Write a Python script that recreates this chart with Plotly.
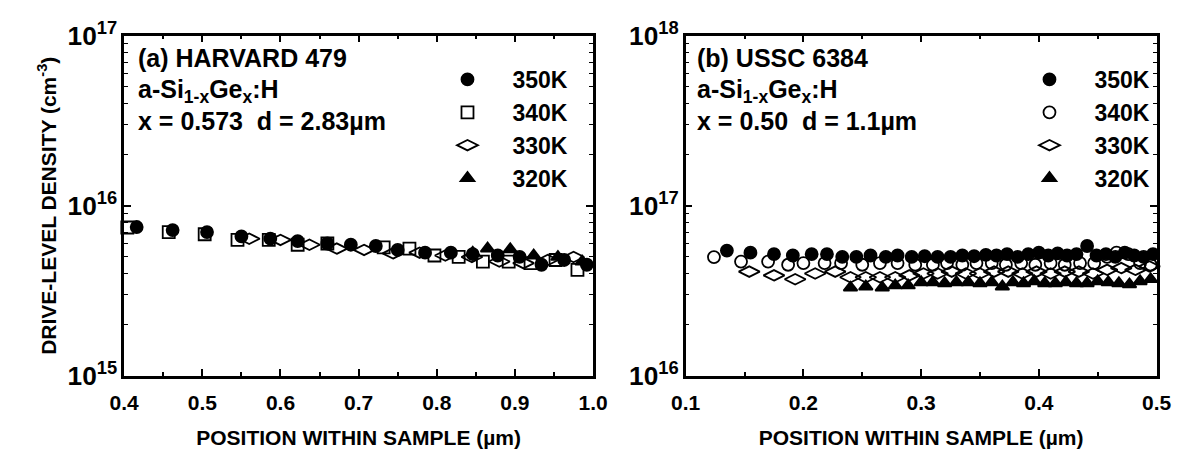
import plotly.graph_objects as go

# ---------------- Panel (a): HARVARD 479 ----------------
a_350_x = [0.416, 0.462, 0.506, 0.550, 0.587, 0.622, 0.660, 0.690, 0.722, 0.750, 0.785, 0.818, 0.846, 0.878, 0.906, 0.934, 0.963, 0.992]
a_350_y = [7.5e15, 7.2e15, 7.0e15, 6.6e15, 6.4e15, 6.2e15, 6.0e15, 5.9e15, 5.8e15, 5.5e15, 5.3e15, 5.3e15, 5.2e15, 5.1e15, 5.0e15, 4.5e15, 4.8e15, 4.5e15]

a_340_x = [0.404, 0.457, 0.503, 0.545, 0.585, 0.622, 0.660, 0.732, 0.765, 0.797, 0.828, 0.859, 0.892, 0.920, 0.952, 0.980]
a_340_y = [7.45e15, 7.0e15, 6.8e15, 6.3e15, 6.3e15, 5.9e15, 6.0e15, 5.7e15, 5.6e15, 5.1e15, 5.0e15, 4.7e15, 4.7e15, 4.6e15, 4.8e15, 4.2e15]

a_330_x = [0.560, 0.600, 0.637, 0.672, 0.707, 0.744, 0.778, 0.811, 0.845, 0.880, 0.911, 0.942, 0.975]
a_330_y = [6.4e15, 6.3e15, 5.9e15, 5.6e15, 5.5e15, 5.25e15, 5.3e15, 5.1e15, 5.0e15, 4.7e15, 4.6e15, 4.8e15, 5.0e15]

a_320_x = [0.846, 0.865, 0.894, 0.924, 0.955, 0.986]
a_320_y = [5.3e15, 5.6e15, 5.55e15, 5.1e15, 5.0e15, 4.7e15]

# ---------------- Panel (b): USSC 6384 ----------------
b_350_x = [0.135, 0.155, 0.175, 0.191, 0.207, 0.220, 0.233, 0.245, 0.257, 0.270, 0.280, 0.292, 0.303, 0.314,
           0.325, 0.335, 0.345, 0.355, 0.364, 0.373, 0.382, 0.391, 0.400, 0.408, 0.416, 0.424, 0.432, 0.441,
           0.449, 0.457, 0.465, 0.473, 0.481, 0.489, 0.497]
b_350_y = [5.45e16, 5.3e16, 5.2e16, 5.1e16, 5.2e16, 5.2e16, 5.0e16, 5.0e16, 5.1e16, 5.0e16, 5.1e16, 5.0e16, 5.05e16, 5.0e16,
           5.0e16, 5.1e16, 5.05e16, 5.15e16, 5.1e16, 5.2e16, 5.0e16, 5.2e16, 5.3e16, 5.1e16, 5.25e16, 5.1e16, 5.2e16, 5.8e16,
           5.1e16, 5.2e16, 5.0e16, 5.3e16, 5.1e16, 5.0e16, 5.2e16]

b_340_x = [0.124, 0.147, 0.170, 0.187, 0.200, 0.218, 0.232, 0.250, 0.265, 0.280, 0.295, 0.310, 0.322, 0.335,
           0.347, 0.360, 0.372, 0.385, 0.397, 0.410, 0.422, 0.435, 0.447, 0.458, 0.466, 0.476, 0.486, 0.495]
b_340_y = [4.99e16, 4.7e16, 4.7e16, 4.5e16, 4.6e16, 4.6e16, 4.6e16, 4.5e16, 4.6e16, 4.6e16, 4.5e16, 4.5e16, 4.6e16, 4.5e16,
           4.6e16, 4.6e16, 4.5e16, 4.6e16, 4.5e16, 4.6e16, 4.5e16, 4.6e16, 4.6e16, 5.0e16, 5.3e16, 5.2e16, 4.6e16, 4.5e16]

b_330_x = [0.154, 0.175, 0.193, 0.210, 0.227, 0.240, 0.253, 0.265, 0.278, 0.290, 0.302, 0.314, 0.326, 0.338,
           0.350, 0.362, 0.374, 0.386, 0.398, 0.410, 0.422, 0.434, 0.446, 0.458, 0.470, 0.482, 0.494]
b_330_y = [4.1e16, 3.9e16, 3.7e16, 4.0e16, 4.1e16, 3.8e16, 3.8e16, 3.8e16, 3.8e16, 3.9e16, 4.0e16, 4.0e16, 4.1e16, 4.0e16,
           4.0e16, 4.1e16, 4.1e16, 4.0e16, 4.1e16, 4.0e16, 4.1e16, 4.1e16, 4.0e16, 4.2e16, 4.3e16, 4.2e16, 4.4e16]

b_320_x = [0.240, 0.253, 0.267, 0.278, 0.289, 0.300, 0.310, 0.320, 0.330, 0.340, 0.350, 0.360, 0.369, 0.378,
           0.387, 0.396, 0.405, 0.414, 0.423, 0.432, 0.441, 0.450, 0.459, 0.468, 0.477, 0.486, 0.495]
b_320_y = [3.3e16, 3.35e16, 3.3e16, 3.4e16, 3.4e16, 3.55e16, 3.55e16, 3.5e16, 3.55e16, 3.55e16, 3.5e16, 3.55e16, 3.35e16, 3.55e16,
           3.5e16, 3.6e16, 3.5e16, 3.5e16, 3.55e16, 3.5e16, 3.5e16, 3.6e16, 3.55e16, 3.5e16, 3.45e16, 3.6e16, 3.7e16]

temps = ["350K", "340K", "330K", "320K"]

FONT = "Liberation Sans"
BLACK = "black"

fig = go.Figure()

def add(x, y, name, symbol, size, xa, ya, leg):
    fig.add_trace(go.Scatter(
        x=x, y=y, mode="markers", name="<b>" + name + "</b>", xaxis=xa, yaxis=ya, legend=leg,
        marker=dict(symbol=symbol, size=size, color=BLACK,
                    line=dict(color=BLACK, width=1.8)),
        cliponaxis=False,
    ))

add(a_350_x, a_350_y, temps[0], "circle", 12, "x", "y", "legend")
add(a_340_x, a_340_y, temps[1], "square-open", 12, "x", "y", "legend")
add(a_330_x, a_330_y, temps[2], "diamond-wide-open", 15, "x", "y", "legend")
add(a_320_x, a_320_y, temps[3], "triangle-up", 12, "x", "y", "legend")

add(b_350_x, b_350_y, temps[0], "circle", 12, "x2", "y2", "legend2")
add(b_340_x, b_340_y, temps[1], "circle-open", 12, "x2", "y2", "legend2")
add(b_330_x, b_330_y, temps[2], "diamond-wide-open", 15, "x2", "y2", "legend2")
add(b_320_x, b_320_y, temps[3], "triangle-up", 12, "x2", "y2", "legend2")

W, H = 1193, 465
def px(v):
    return v / W
def py(v):
    return 1 - v / H

axis_common = dict(
    showline=True, linecolor=BLACK, linewidth=2.5, mirror="allticks",
    ticks="inside", ticklen=7, tickwidth=1.5, tickcolor=BLACK,
    showgrid=False, zeroline=False, ticklabeloverflow="allow",
    tickfont=dict(family=FONT, size=21, color=BLACK),
)

xcommon = dict(axis_common, dtick=0.1, tickformat=".1f", ticklabelstandoff=6,
               minor=dict(ticks="inside", ticklen=4, tickwidth=1.5, tickcolor=BLACK, dtick=0.05),
               title=dict(text="<b>POSITION WITHIN SAMPLE (µm)</b>",
                          font=dict(family=FONT, size=21, color=BLACK), standoff=18))
ycommon = dict(axis_common, type="log", dtick=1, exponentformat="power",
               minor=dict(ticks="inside", ticklen=4, tickwidth=1.2, tickcolor=BLACK, dtick="D1"))

fig.update_layout(
    width=W, height=H, margin=dict(l=0, r=0, t=0, b=0),
    paper_bgcolor="white", plot_bgcolor="white",
    font=dict(family=FONT, size=21, color=BLACK),
    xaxis=dict(xcommon, domain=[px(112), px(593)], range=[0.4, 1.0], anchor="y"),
    yaxis=dict(ycommon, domain=[py(385), py(18)], range=[15, 17], anchor="x",
               title=dict(text="<b>DRIVE-LEVEL DENSITY (cm<sup>-3</sup>)</b>",
                          font=dict(family=FONT, size=21, color=BLACK), standoff=6)),
    xaxis2=dict(xcommon, domain=[px(688), px(1171)], range=[0.1, 0.5], anchor="y2"),
    yaxis2=dict(ycommon, domain=[py(385), py(18)], range=[16, 18], anchor="x2"),
    showlegend=True,
    legend=dict(x=px(418), y=py(42), xanchor="left", yanchor="top",
                font=dict(family=FONT, size=23, color=BLACK), bgcolor="rgba(0,0,0,0)",
                itemwidth=80, tracegroupgap=0),
    legend2=dict(x=px(1015), y=py(42), xanchor="left", yanchor="top",
                 font=dict(family=FONT, size=23, color=BLACK), bgcolor="rgba(0,0,0,0)",
                 itemwidth=80, tracegroupgap=0),
)

fig.update_xaxes(tickprefix="<b>", ticksuffix="</b>")
fig.update_yaxes(tickprefix="<b>", ticksuffix="</b>")

def note(text, x, y):
    fig.add_annotation(text=text, x=px(x), y=py(y), xref="paper", yref="paper",
                       xanchor="left", yanchor="middle", showarrow=False,
                       font=dict(family=FONT, size=25, color=BLACK))

note("<b>(a) HARVARD 479</b>", 124, 42)
note("<b>a-Si<sub>1-x</sub>Ge<sub>x</sub>:H</b>", 124, 78)
note("<b>x = 0.573  d = 2.83µm</b>", 124, 110)
note("<b>(b) USSC 6384</b>", 698, 42)
note("<b>a-Si<sub>1-x</sub>Ge<sub>x</sub>:H</b>", 698, 78)
note("<b>x = 0.50  d = 1.1µm</b>", 698, 110)

fig.write_html("out.html")
